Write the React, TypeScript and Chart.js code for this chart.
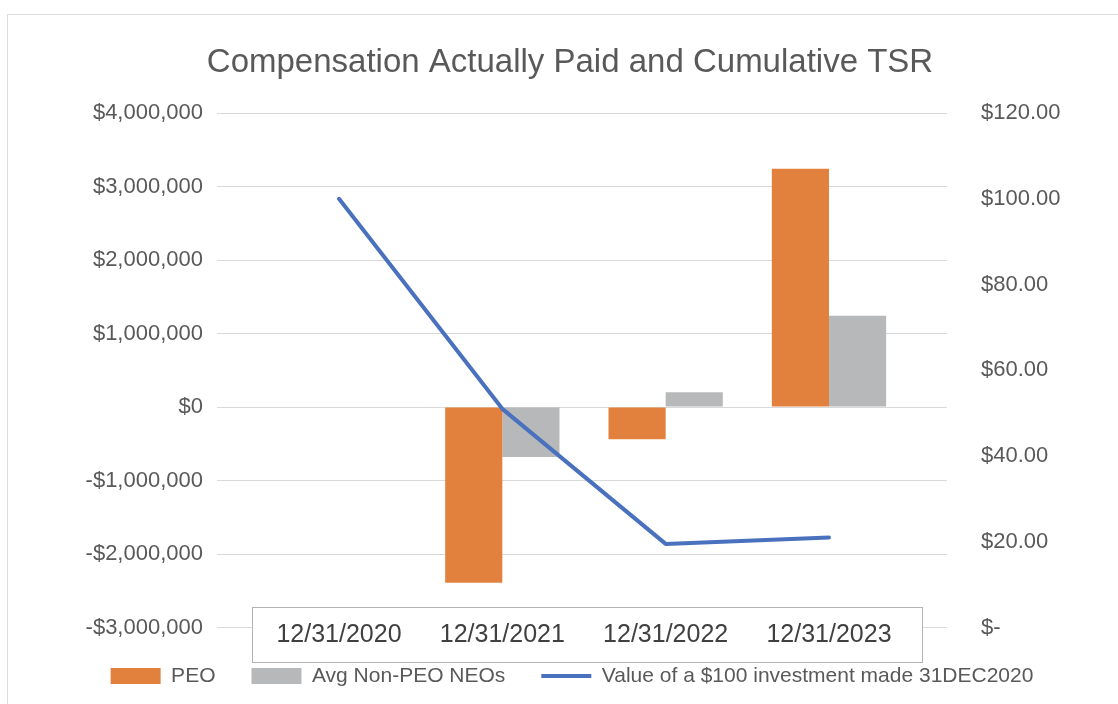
import React, { useEffect, useRef } from "react";
import { Chart, registerables } from "chart.js";

Chart.register(...registerables);

const categories = ["12/31/2020", "12/31/2021", "12/31/2022", "12/31/2023"];
const peoValues = [null, -2390000, -440000, 3240000];
const neoValues = [null, -680000, 200000, 1240000];
const tsrValues = [100, 51, 19.5, 21];

const titleText = "Compensation Actually Paid and Cumulative TSR";
const seriesNames = ["PEO", "Avg Non-PEO NEOs", "Value of a $100 investment made 31DEC2020"];

const FONT = "'Liberation Sans', Arial, Helvetica, sans-serif";

const categoryBox = {
  id: "categoryBox",
  afterDraw(chart: any) {
    const { ctx, scales } = chart;
    const x = scales.x;
    ctx.save();
    ctx.fillStyle = "#ffffff";
    ctx.fillRect(252, 607, 670, 55);
    ctx.strokeStyle = "#b3b3b3";
    ctx.lineWidth = 1;
    ctx.strokeRect(252.5, 607.5, 670, 55);
    ctx.fillStyle = "#404040";
    ctx.font = `25px ${FONT}`;
    ctx.textAlign = "center";
    ctx.textBaseline = "middle";
    categories.forEach((c, i) => {
      ctx.fillText(c, x.getPixelForValue(i), 635);
    });
    ctx.restore();
  },
};

const boxShift = {
  id: "boxShift",
  afterLayout(chart: any) {
    if (chart.legend) {
      chart.legend.left += 13;
      chart.legend.right += 13;
    }
    if (chart.titleBlock) {
      chart.titleBlock.left += 11;
      chart.titleBlock.right += 11;
    }
  },
};

export default function App() {
  const ref = useRef<HTMLCanvasElement>(null);

  useEffect(() => {
    if (!ref.current) return;
    const chart = new Chart(ref.current, {
      data: {
        datasets: [
          {
            type: "bar",
            label: seriesNames[0],
            data: peoValues.map((v, i) => ({ x: i, y: v })),
            backgroundColor: "#E2803D",
            borderWidth: 0,
            yAxisID: "y",
            order: 1,
            pointStyle: "rect",
            barPercentage: 1,
            categoryPercentage: 0.7,
          } as any,
          {
            type: "bar",
            label: seriesNames[1],
            data: neoValues.map((v, i) => ({ x: i, y: v })),
            backgroundColor: "#B7B8B9",
            borderWidth: 0,
            yAxisID: "y",
            order: 1,
            pointStyle: "rect",
            barPercentage: 1,
            categoryPercentage: 0.7,
          } as any,
          {
            type: "line",
            label: seriesNames[2],
            data: tsrValues.map((v, i) => ({ x: i, y: v })),
            borderColor: "#4A71BE",
            backgroundColor: "#4A71BE",
            borderWidth: 4,
            borderCapStyle: "round",
            borderJoinStyle: "round",
            pointRadius: 0,
            pointStyle: "line",
            yAxisID: "y1",
            order: 0,
          } as any,
        ],
      },
      options: {
        responsive: false,
        animation: false,
        layout: { padding: { top: 0, bottom: 7.5, left: 0, right: 0 } },
        plugins: {
          title: {
            display: true,
            text: titleText,
            color: "#595959",
            font: { family: FONT, size: 33, weight: "normal" },
            padding: { top: 43, bottom: 30.4 },
          },
          legend: {
            position: "bottom",
            labels: {
              usePointStyle: true,
              pointStyleWidth: 50,
              boxHeight: 16,
              padding: 36,
              color: "#595959",
              font: { family: FONT, size: 21 },
              sort: (a: any, b: any) => a.datasetIndex - b.datasetIndex,
            },
          },
          tooltip: { enabled: false },
        },
        scales: {
          x: {
            type: "linear",
            min: -0.747,
            max: 3.7226,
            bounds: "data",
            offset: false,
            display: true,
            grid: { display: false, drawTicks: false, offset: false },
            border: { display: false },
            ticks: { display: false, stepSize: 1, includeBounds: false },
            afterBuildTicks: (s: any) => {
              s.ticks = categories.map((_, i) => ({ value: i }));
            },
            afterFit: (s: any) => {
              s.height = 2;
            },
          },
          y: {
            type: "linear",
            position: "left",
            min: -3000000,
            max: 4000000,
            grid: { color: "#d9d9d9", lineWidth: 1, drawTicks: false },
            border: { display: false },
            ticks: {
              stepSize: 1000000,
              padding: 14,
              color: "#595959",
              font: { family: FONT, size: 22 },
              callback: (v: any) =>
                (v < 0 ? "-" : "") + "$" + Math.abs(Number(v)).toLocaleString("en-US"),
            },
            afterFit: (s: any) => {
              s.width = 217;
            },
          },
          y1: {
            type: "linear",
            position: "right",
            min: 0,
            max: 120,
            grid: { display: false, drawTicks: false },
            border: { display: false },
            ticks: {
              stepSize: 20,
              padding: 34,
              color: "#595959",
              font: { family: FONT, size: 22 },
              callback: (v: any) => (Number(v) === 0 ? "$-" : "$" + Number(v).toFixed(2)),
            },
            afterFit: (s: any) => {
              s.width = 171;
            },
          },
        },
      } as any,
      plugins: [categoryBox, boxShift],
    });
    return () => chart.destroy();
  }, []);

  return (
    <div
      style={{
        position: "fixed",
        left: 0,
        top: 0,
        width: 1118,
        height: 704,
        overflow: "hidden",
        background: "#ffffff",
      }}
    >
      <div
        style={{
          position: "absolute",
          left: 7,
          top: 14,
          width: 1200,
          height: 800,
          border: "1px solid #dcdcdc",
        }}
      />
      <canvas
        ref={ref}
        width={1118}
        height={704}
        style={{ position: "absolute", left: 0, top: 0, width: 1118, height: 704 }}
      />
    </div>
  );
}
